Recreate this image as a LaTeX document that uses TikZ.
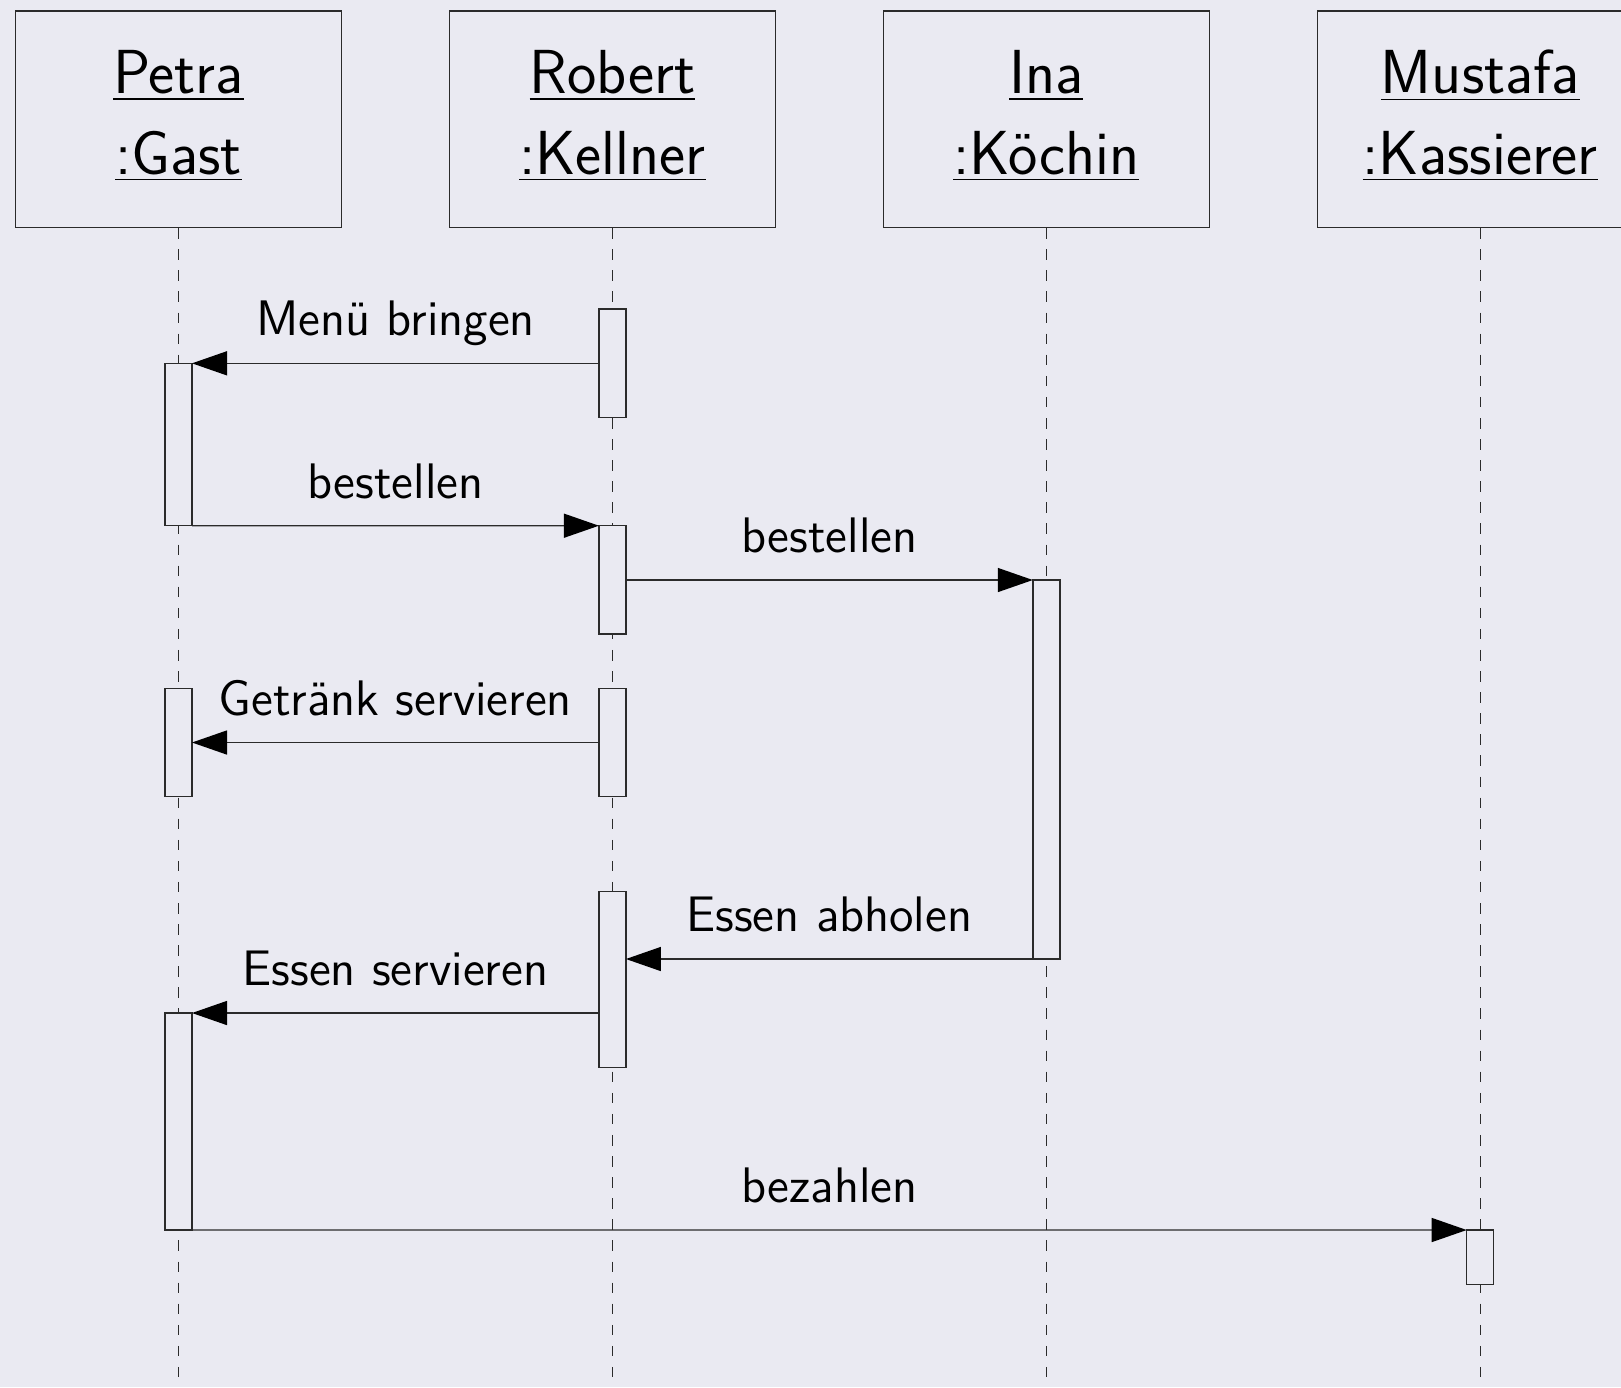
\documentclass[tikz,border=0pt]{standalone}
\usepackage{tikz}
\usetikzlibrary{arrows.meta}
\usepackage{xcolor}
\definecolor{paleblue}{HTML}{EAEAF2}
\definecolor{inkgrey}{HTML}{2B2B2B}

\begin{document}
\begin{tikzpicture}[
        object/.style={rectangle, draw=inkgrey, fill=paleblue,
          minimum width=3.26cm, minimum height=2.165cm,
          inner sep=0pt, align=center, text depth=0.14cm,
          font=\sffamily\fontsize{17.7}{22.9}\selectfont},
        bar/.style={rectangle, draw=inkgrey, fill=paleblue,
          minimum width=0.27cm, inner sep=0pt, outer sep=0pt},
        lifeline/.style={draw=inkgrey, dashed},
        msg/.style={draw=inkgrey,
          -{Triangle[length=0.35cm, width=0.24cm, color=black]}},
        msglbl/.style={midway, anchor=base, yshift=0.275cm,
          font=\sffamily\fontsize{14.2}{17}\selectfont, text=black},
      ]

      % Canvas
      \clip (0, 0) rectangle (16.21, -13.87);
      \fill[paleblue] (0, 0) rectangle (16.21, -13.87);
      \coordinate (bottom) at (0, -13.87);

      % Objects
      \node[object] (petra) at (1.785, -1.1925)
        {\underline{Petra}\\\underline{:Gast}};
      \node[object] (robert) at (6.124, -1.1925)
        {\underline{Robert}\\\underline{:Kellner}};
      \node[object] (ina) at (10.463, -1.1925)
        {\underline{Ina}\\\underline{:Köchin}};
      \node[object] (mustafa) at (14.802, -1.1925)
        {\underline{Mustafa}\\\underline{:Kassierer}};

      % Lifelines
      \draw[lifeline] (petra.south) -- (petra.south |- bottom);
      \draw[lifeline] (robert.south) -- (robert.south |- bottom);
      \draw[lifeline] (ina.south) -- (ina.south |- bottom);
      \draw[lifeline] (mustafa.south) -- (mustafa.south |- bottom);

      % Activations: Petra
      \node[bar, minimum height=1.624cm] (petA) at (1.785, -4.445) {};
      \node[bar, minimum height=1.084cm] (petB) at (1.785, -7.425) {};
      \node[bar, minimum height=2.17cm] (petC) at (1.785, -11.215) {};

      % Activations: Robert
      \node[bar, minimum height=1.083cm] (robA) at (6.124, -3.6315) {};
      \node[bar, minimum height=1.083cm] (robB) at (6.124, -5.7985) {};
      \node[bar, minimum height=1.084cm] (robC) at (6.124, -7.425) {};
      \node[bar, minimum height=1.76cm] (robD) at (6.124, -9.797) {};

      % Activations: Ina, Mustafa
      \node[bar, minimum height=3.79cm] (inaA) at (10.463, -7.695) {};
      \node[bar, minimum height=0.547cm] (musA) at (14.802, -12.5735) {};

      % Messages
      \draw[msg] (robA.west |- petA.north) -- (petA.north east)
        node[msglbl] {Menü bringen};
      \draw[msg] (petA.south east) -- (robB.north west)
        node[msglbl] {bestellen};
      \draw[msg] (robB.east |- inaA.north) -- (inaA.north west)
        node[msglbl] {bestellen};
      \draw[msg] (robC.west) -- (petB.east)
        node[msglbl] {Getränk servieren};
      \draw[msg] (inaA.south west) -- (robD.east |- inaA.south)
        node[msglbl] {Essen abholen};
      \draw[msg] (robD.west |- petC.north) -- (petC.north east)
        node[msglbl] {Essen servieren};
      \draw[msg] (petC.south east) -- (musA.north west)
        node[msglbl] {bezahlen};

      \end{tikzpicture}
\end{document}
